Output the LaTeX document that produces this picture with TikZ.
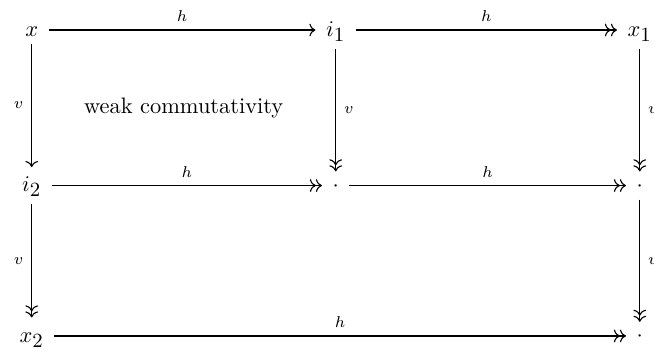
\documentclass[tikz,border=0pt]{standalone}
\usepackage{amsmath}
\usetikzlibrary{arrows.meta, positioning}
\DeclareMathSizes{10}{10}{9}{7}

\begin{document}
\begin{tikzpicture}[
  node distance=2.44cm and 4.77cm, on grid,
  >={To}, line width=0.5pt,
  obj/.style={text height=1.5ex, text depth=.25ex, inner xsep=4.5pt, inner ysep=2.3pt},
  subobj/.style={obj, text height=8.4pt, text depth=3pt},
  mono/.style={->},
  epi/.style={->>},
  lbl/.style={inner sep=3.5pt, font=\scriptsize}
]
\useasboundingbox (-14.15pt,13.4pt) rectangle (277.8pt,-142.4pt);

% Objects
\node[obj] (x) {$x$};
\node[subobj, right=of x] (i1) {$i_1$};
\node[subobj, right=of i1] (x1) {$x_1$};
\node[subobj, below=of x] (i2) {$i_2$};
\node[obj, below=of i1] (d1) {$\cdot$};
\node[obj, below=of x1] (d2) {$\cdot$};
\node[subobj, below=2.36cm of i2] (x2) {$x_2$};
\node[obj, below=2.36cm of d2] (d3) {$\cdot$};

\node[below right=1.22cm and 2.385cm of x] (weak) {weak commutativity};

% Horizontal arrows
\draw[mono] (x) -- node[lbl, above] {$h$} (i1);
\draw[epi] (i1) -- node[lbl, above] {$h$} (x1);
\draw[epi] (i2) -- node[lbl, above] {$h$} (d1);
\draw[epi] (d1) -- node[lbl, above] {$h$} (d2);
\draw[epi] (x2) -- node[lbl, above] {$h$} (d3);

% Vertical arrows
\draw[mono] (x) -- node[lbl, left] {$v$} (i2);
\draw[epi] (i1) -- node[lbl, right] {$v$} (d1);
\draw[epi] (x1) -- node[lbl, right] {$v$} (d2);
\draw[epi] (i2) -- node[lbl, left] {$v$} (x2);
\draw[epi] (d2) -- node[lbl, right] {$v$} (d3);

\end{tikzpicture}
\end{document}
